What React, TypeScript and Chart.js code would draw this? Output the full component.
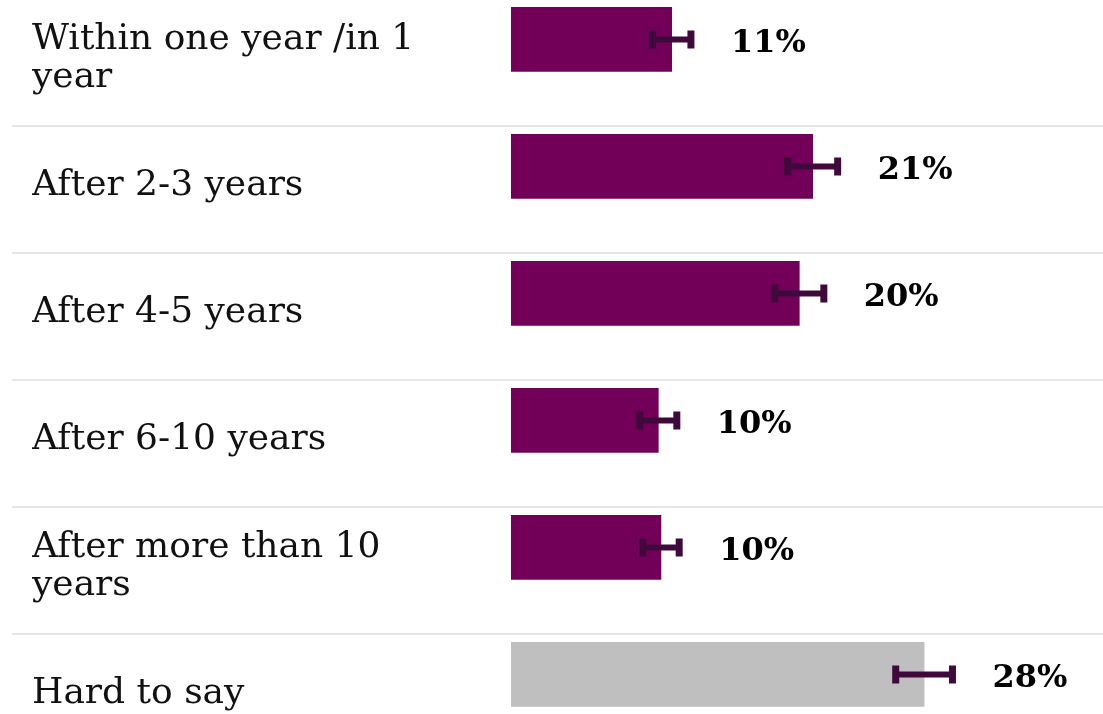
import React, { useEffect, useRef } from "react";
import { Chart, registerables } from "chart.js";

Chart.register(...registerables);

const categories: string[][] = [
  ["Within one year /in 1", "year"],
  ["After 2-3 years"],
  ["After 4-5 years"],
  ["After 6-10 years"],
  ["After more than 10", "years"],
  ["Hard to say"],
];
const values = [10.93, 20.52, 19.61, 10.02, 10.2, 28.1];
const errors = [1.31, 1.7, 1.67, 1.26, 1.24, 1.93];
const valueLabels = ["11%", "21%", "20%", "10%", "10%", "28%"];
const barColors = ["#720059", "#720059", "#720059", "#720059", "#720059", "#bfbfbf"];

const errorColor = "#3f0a3b";

const errorBarPlugin = {
  id: "errorBarsAndLabels",
  afterDatasetsDraw(chart: any) {
    const ctx = chart.ctx;
    const meta = chart.getDatasetMeta(0);
    const xs = chart.scales.x;
    meta.data.forEach((el: any, i: number) => {
      const y = el.y;
      const lo = xs.getPixelForValue(values[i] - errors[i]);
      const hi = xs.getPixelForValue(values[i] + errors[i]);
      ctx.save();
      ctx.strokeStyle = errorColor;
      ctx.lineWidth = 6;
      ctx.beginPath();
      ctx.moveTo(lo, y);
      ctx.lineTo(hi, y);
      ctx.stroke();
      ctx.lineWidth = 7;
      ctx.beginPath();
      ctx.moveTo(lo, y - 9);
      ctx.lineTo(lo, y + 9);
      ctx.moveTo(hi, y - 9);
      ctx.lineTo(hi, y + 9);
      ctx.stroke();
      ctx.fillStyle = "#000";
      ctx.font = "bold 32px 'DejaVu Serif'";
      ctx.textAlign = "left";
      ctx.textBaseline = "middle";
      ctx.fillText(valueLabels[i], hi + 40, y + 4);
      ctx.restore();
    });
  },
};

export default function App() {
  const ref = useRef<HTMLCanvasElement | null>(null);
  useEffect(() => {
    document.body.style.margin = "0";
    const canvas = ref.current!;
    const chart = new Chart(canvas, {
      type: "bar",
      data: {
        labels: categories,
        datasets: [
          {
            data: values.map((v, i) => ({ x: v, y: i })),
            backgroundColor: barColors,
            borderWidth: 0,
            barThickness: 64,
            xAxisID: "x",
            yAxisID: "yb",
          } as any,
        ],
      },
      options: {
        indexAxis: "y",
        animation: false,
        responsive: false,
        events: [],
        layout: { padding: { left: 32, right: 0, top: 0, bottom: 0 } },
        plugins: { legend: { display: false }, tooltip: { enabled: false } },
        scales: {
          x: {
            type: "linear",
            min: 0,
            max: 40.27,
            display: false,
          },
          yb: {
            axis: "y",
            type: "linear",
            min: -0.318,
            max: 5.682,
            reverse: true,
            offset: false,
            grid: { offset: false },
            display: false,
          },
          y: {
            type: "category",
            labels: categories as any,
            position: "left",
            offset: true,
            border: { display: false },
            grid: {
              offset: true,
              drawTicks: true,
              tickLength: 499,
              lineWidth: 2,
              color: (c: any) => (c.index === 0 ? "rgba(0,0,0,0)" : "#e6e6e6"),
              tickColor: (c: any) => (c.index === 0 ? "rgba(0,0,0,0)" : "#e6e6e6"),
            },
            ticks: {
              crossAlign: "far",
              color: "#111",
              labelOffset: -4,
              font: { family: "'DejaVu Serif'", size: 36, lineHeight: 1.06 },
            },
            afterFit: (scale: any) => {
              scale.width = 479;
              scale.paddingTop = 0;
              scale.paddingBottom = 0;
            },
          } as any,
        },
      },
      plugins: [errorBarPlugin],
    } as any);
    return () => chart.destroy();
  }, []);
  return (
    <div style={{ position: "fixed", left: 0, top: 0, width: 1103, height: 714, overflow: "hidden", background: "#fff" }}>
      <canvas
        ref={ref}
        width={1103}
        height={762}
        style={{ position: "absolute", left: 0, top: -1, width: 1103, height: 762 }}
      />
    </div>
  );
}
